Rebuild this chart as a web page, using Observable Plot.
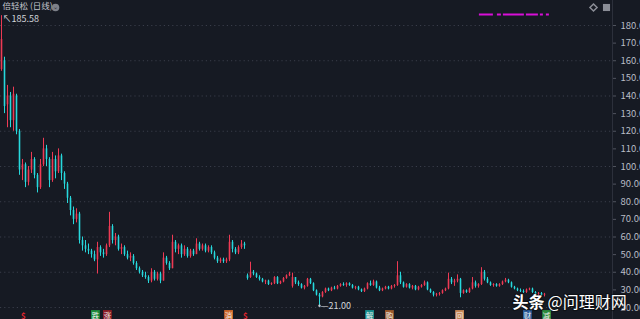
<!DOCTYPE html>
<html><head><meta charset="utf-8">
<script src="https://cdn.jsdelivr.net/npm/d3@7"></script>
<script src="https://cdn.jsdelivr.net/npm/@observablehq/plot@0.6"></script>
<style>
html,body{margin:0;padding:0;background:#161a23;overflow:hidden}
#chart svg{display:block}
</style></head><body><div id="chart"></div>
<script>
const title = "倍轻松 (日线)";
const opens = [
155,160,135,140,126,140,120,98,101,91,
98,104,95,88,101,110,104,92,104,97,
106,96,90,82,75,70,73,58,55,53,
52,50,47,54,51,50,55,66,58,60,
53,54,50,48,49,45,42,40,38,37,
35,40,36,39,35,48,45,42,57,53,
55,50,53,49,52,50,56,53,55,52,
54,51,48,46,47,46,47,57,53,51,
54,56,38,37,40,39,37,36,34.5,35,
33,33.5,37,33.5,34.5,36.5,38,32,37,34,
33,31,32,36,33.5,29.5,27,26,28.5,30.5,
29.5,31,30.5,32,33,32.5,33.5,32.5,31,31.5,
30,29,30.5,33.5,32.5,34.5,31,29.5,30.5,31.5,
30.5,32,32.5,38,34,31.5,33,31,32,30,
31.5,32.5,34,30,28.5,27,27.5,28,29.5,30.5,
36,34,35,36,28,29.5,28.5,30.5,34,32,
33,40,36,34,32.5,33,32,33,34.5,35.5,
34,31.5,30.5,29.5,29,28.5,30,30.5,28.5,27.5,
28,27];
const highs = [
185.58,162,146,142,145,141,121,104,102,100,
108,105,96,104,116,112,105,108,106,110,
107,97,91,83,77,76,74,60,58,56,
53,52,57,55,53,56,74,67,62,61,
56,55,52,51,50,46,43,41,40,38,
42,41,40,40,51,49,46,61,58,56,
56,55,54,53,53,59,57,56,56,55,
55,52,49,48,48,48,61,58,54,55,
58,57,39,45.7,41,39.5,38,36.5,35.5,35.5,
34,37.5,37.5,35,37,38.5,40,39.5,37,35,
33.5,32.5,36.5,36.5,34,30,28,29,31,31,
31.5,32,32.5,33.5,34,34,34,33,32,32,
30.5,31,34,35,35.5,35,32,31,32,32,
32.5,33,46,40,34.5,33.5,33.5,32.5,32.5,32,
33,35,34.5,30.5,29,28,28.5,30,31,39.5,
37,36,38.5,36.5,30,30,31,37,35,33.5,
42.6,41,37,34.5,33.5,33.5,33.5,35,36.5,36,
34.5,32,31,30.5,30,30.5,31,31,29,28.5,
28.5,28];
const lows = [
154,130,122,122,120,118,95,92,88,89,
96,93,85,87,100,100,88,91,93,96,
92,87,79,72,67,68,56,52,51,50,
48,46,39,49,48,49,54,56,55,52,
50,49,47,46,44,41,39,37,36,33.6,
34,35,35,33.5,35,44,41,42,51,50,
48,49,48,48,49,50,52,52,51,51,
50,47,45,45,45,45,46,51,50,50,
53,53,35.5,36.5,38,36.5,35,34,33,32.5,
32.5,33,33,33,34,36,37.5,31,33,32,
30.5,30,31.5,33,29,26.5,21,25.5,28,29,
29,30,30,31.5,32,31.5,32,30.5,30,29.5,
28.5,28.5,30,32,32,30.5,29,29,30,30,
30,31,32,33,31,31,30.5,30,29.5,29.5,
31,32,29.5,28,26,26,26.5,27.5,29,30,
33,32,34,25.5,27.5,28,28,30,31,31,
32.5,35,33.5,32,31.5,31.5,31.5,32.5,34,33.5,
31,30,29,28.5,28,28,29.5,28,27,26.5,
26.5,26];
const closes = [
172,134,140,126,141,120,98,101,91,98,
104,95,88,101,110,104,92,104,97,106,
96,90,82,75,70,73,58,55,53,52,
50,47,54,51,50,55,66,58,60,53,
54,50,48,49,45,42,40,38,37,35,
40,36,39,35,48,45,42,57,53,55,
50,53,49,52,50,56,53,55,52,54,
51,48,46,47,46,47,57,53,51,54,
56,55,36.5,40,39,37,36,34.5,35,33,
33.5,37,33.5,34.5,36.5,38,39,37,34,33,
31,32,36,33.5,29.5,27,26,28.5,30.5,29.5,
31,30.5,32,33,32.5,33.5,32.5,31,31.5,30,
29,30.5,33.5,32.5,34.5,31,29.5,30.5,31.5,30.5,
32,32.5,38,34,31.5,33,31,32,30,31.5,
32.5,34,30,28.5,27,27.5,28,29.5,30.5,36,
34,35,36,28,29.5,28.5,30.5,34,32,33,
40,36,34,32.5,33,32,33,34.5,35.5,34,
31.5,30.5,29.5,29,28.5,30,30.5,28.5,27.5,28,
27,27.5];
const yTicks = [20,30,40,50,60,70,80,90,100,110,120,130,140,150,160,170,180];
const gridLevels = [20,40,60,80,100,120,140,160,180];
const markerLabels = ["跌","涨","消","解","购","回","财","减"];
const markerPos = [31.3,35.3,75.7,122.7,129.3,152.7,175.3,181.7];
const markerColors = ["#1f8a3b","#8c1f26","#cf6a2c","#17908f","#9c5a2c","#c98a58","#2a5c9a","#2a8a3c"];
const redMarkPos = [7.3,81.3];
const maxPoint = {i:0, v:185.58, label:"185.58"};
const minPoint = {i:106, v:21.00, label:"21.00"};
const magentaLevel = 186.24, magentaStart = 159.3, magentaEnd = 182.7;
const wmA = "头条", wmB = "@问理财网";

const upColor = "#ee3a54", downColor = "#27d8dc";
const candles = opens.map((o,i)=>({i, o, h: highs[i], l: lows[i], c: closes[i]}));
const col = d => d.c >= d.o ? upColor : downColor;
const xDomain = [-1/3, 204 - 1/3];
const markers = markerLabels.map((t,k)=>({t, i: markerPos[k], color: markerColors[k]}));
const font = "'Noto Sans CJK SC', 'Noto Sans', sans-serif";

const chart = Plot.plot({
  width: 640, height: 319,
  marginLeft: 0, marginRight: 28, marginTop: 0, marginBottom: 0,
  style: {background: "#161a23", fontFamily: font, overflow: "hidden"},
  x: {domain: xDomain, axis: null},
  y: {domain: [13.19, 194.18], axis: null},
  marks: [
    Plot.ruleY(gridLevels, {stroke: "#3a3e4a", strokeDasharray: "1.2,3"}),
    Plot.ruleX(candles, {x: "i", y1: "l", y2: "h", stroke: col, strokeWidth: 1}),
    Plot.ruleX(candles, {x: "i", y1: "o", y2: "c", stroke: col, strokeWidth: 1.6}),
    Plot.ruleX([xDomain[1]], {stroke: "#2c303b"}),
    Plot.axisY(yTicks, {anchor: "right", label: null, tickSize: 3, tickPadding: 5,
      tickFormat: d => d.toFixed(2), fontSize: 9.5, fill: "#b9bcc5", stroke: "#50545f"}),
    Plot.ruleY([magentaLevel], {x1: magentaStart, x2: magentaEnd, stroke: "#d80fd8", strokeWidth: 2,
      strokeDasharray: "14,4,4,2,21,2,12,2,3,3,3"}),
    Plot.text([maxPoint], {x: "i", y: "v", text: d => "↖" + d.label, dx: 1, dy: 3, textAnchor: "start",
      fontSize: 9, fill: "#d2d4da"}),
    Plot.dot([minPoint], {x: "i", y: "v", r: 1.2, fill: "#c8cad0"}),
    Plot.text([minPoint], {x: "i", y: "v", text: d => "—" + d.label, dx: 1, textAnchor: "start",
      fontSize: 9, fill: "#d2d4da"}),
    Plot.dot(markers, {x: "i", frameAnchor: "bottom", dy: -5, symbol: "square", r: 5, fill: "color"}),
    Plot.text(markers, {x: "i", frameAnchor: "bottom", dy: -1, text: "t", fontSize: 7.5, fill: "#f0f0f0",
      lineAnchor: "bottom"}),
    Plot.text(redMarkPos, {x: d => d, frameAnchor: "bottom", dy: -1, text: () => "$", fontSize: 8,
      fill: "#e0242e", fontWeight: "bold", lineAnchor: "bottom"}),
    Plot.text([title], {frameAnchor: "top-left", dx: 2, dy: 2, fontSize: 8.5, fill: "#c3c6ce"}),
    Plot.dot([title], {frameAnchor: "top-left", dx: 55, dy: 7, r: 3.8, fill: "#7d8089"}),
    Plot.text([title], {frameAnchor: "top-left", dx: 55, dy: 7, text: () => "⌄", fontSize: 6,
      fill: "#2a2d35", textAnchor: "middle", lineAnchor: "middle"}),
    Plot.dot([title], {frameAnchor: "top-right", dx: -19, dy: 7, r: 3.2, symbol: "diamond2",
      stroke: "#8a8d96", fill: "none"}),
    Plot.dot([title], {frameAnchor: "top-right", dx: -6, dy: 7, r: 4, symbol: "square", fill: "#8a8d96"}),
    Plot.text([wmA], {frameAnchor: "bottom-left", dx: 512, dy: -12, fontSize: 16, fontWeight: "bold",
      fill: "#ffffff", stroke: "#000", strokeOpacity: 0.35, strokeWidth: 2.5, paintOrder: "stroke"}),
    Plot.text([wmB], {frameAnchor: "bottom-left", dx: 547, dy: -12, fontSize: 16,
      fill: "#ffffff", stroke: "#000", strokeOpacity: 0.35, strokeWidth: 2.5, paintOrder: "stroke"})
  ]
});
document.getElementById("chart").appendChild(chart);
</script>
</body></html>
